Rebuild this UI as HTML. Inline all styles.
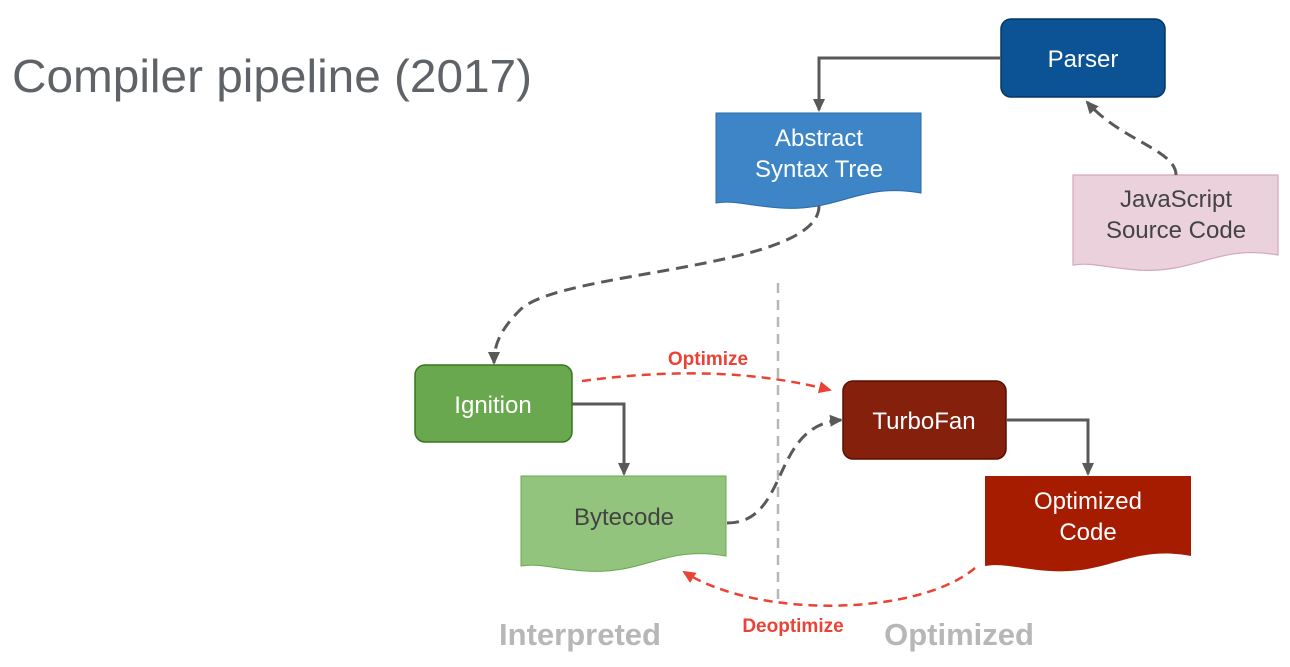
<!DOCTYPE html>
<html><head><meta charset="utf-8"><style>
html,body{margin:0;padding:0;background:#fff;}
svg{display:block;}
text{font-family:"Liberation Sans",sans-serif;}
</style></head><body>
<svg width="1290" height="667" viewBox="0 0 1290 667" xmlns="http://www.w3.org/2000/svg">
<defs>
<marker id="ag" markerWidth="14" markerHeight="14" refX="11" refY="7" orient="auto" markerUnits="userSpaceOnUse"><path d="M0,1 L13,7 L0,13 Z" fill="#595959"/></marker>
<marker id="ar" markerWidth="14" markerHeight="14" refX="11" refY="7" orient="auto" markerUnits="userSpaceOnUse"><path d="M0,1 L13,7 L0,13 Z" fill="#ea4335"/></marker>
</defs>
<text x="12" y="92" font-size="46" fill="#5f6368" textLength="520" lengthAdjust="spacingAndGlyphs">Compiler pipeline (2017)</text>

<line x1="778" y1="283" x2="778" y2="606" stroke="#b7b7b7" stroke-width="2.5" stroke-dasharray="10,7"/>

<rect x="1001" y="19" width="164" height="78" rx="10" fill="#0b5394" stroke="#073763" stroke-width="1.5"/>
<text x="1083" y="67" font-size="24" fill="#fff" text-anchor="middle">Parser</text>

<path d="M716,113 H921 V193 C860,182 840,212 780,208 C750,206 735,200 716,203 Z" fill="#3d85c6" stroke="#2a6aa8" stroke-width="1"/>
<text x="819" y="146" font-size="24" fill="#fff" text-anchor="middle">Abstract</text>
<text x="819" y="177" font-size="24" fill="#fff" text-anchor="middle">Syntax Tree</text>

<path d="M1073,175 H1278 V255 C1217,244 1197,274 1137,270 C1107,268 1092,262 1073,265 Z" fill="#ead1dc" stroke="#d5a6bd" stroke-width="1.2"/>
<text x="1176" y="207" font-size="24" fill="#434343" text-anchor="middle">JavaScript</text>
<text x="1176" y="238" font-size="24" fill="#434343" text-anchor="middle">Source Code</text>

<rect x="415" y="365" width="157" height="77" rx="10" fill="#6aa84f" stroke="#38761d" stroke-width="1.5"/>
<text x="493" y="413" font-size="24" fill="#fff" text-anchor="middle">Ignition</text>

<path d="M521,476 H726 V556 C665,545 645,575 585,571 C555,569 540,563 521,566 Z" fill="#93c47d" stroke="#6aa84f" stroke-width="1"/>
<text x="624" y="525" font-size="24" fill="#434343" text-anchor="middle">Bytecode</text>

<rect x="843" y="381" width="163" height="78" rx="10" fill="#85200c" stroke="#5b0f00" stroke-width="1.5"/>
<text x="924" y="429" font-size="24" fill="#fff" text-anchor="middle">TurboFan</text>

<path d="M985,476 H1191 V556 C1130,545 1110,575 1050,571 C1020,569 1004,563 985,566 Z" fill="#a61c00"/>
<text x="1088" y="509" font-size="24" fill="#fff" text-anchor="middle">Optimized</text>
<text x="1088" y="540" font-size="24" fill="#fff" text-anchor="middle">Code</text>

<path d="M1001,58 H819 V110" fill="none" stroke="#595959" stroke-width="3" marker-end="url(#ag)"/>
<path d="M1176,175 C1176,150 1120,140 1087,102" fill="none" stroke="#595959" stroke-width="3" stroke-dasharray="12,7" marker-end="url(#ag)"/>
<path d="M819,206 C819,270 560,270 520,310 C500,330 494,345 494,363" fill="none" stroke="#595959" stroke-width="3" stroke-dasharray="12,7" marker-end="url(#ag)"/>
<path d="M572,404 H624 V474" fill="none" stroke="#595959" stroke-width="3" marker-end="url(#ag)"/>
<path d="M727,523 C790,523 770,425 841,420" fill="none" stroke="#595959" stroke-width="3" stroke-dasharray="12,7" marker-end="url(#ag)"/>
<path d="M1006,420 H1088 V474" fill="none" stroke="#595959" stroke-width="3" marker-end="url(#ag)"/>

<path d="M582,381 C680,368 760,372 830,390" fill="none" stroke="#ea4335" stroke-width="2.5" stroke-dasharray="9,6" marker-end="url(#ar)"/>
<text x="708" y="365" font-size="19" font-weight="bold" fill="#ea4335" text-anchor="middle">Optimize</text>
<path d="M975,568 C920,615 760,620 684,572" fill="none" stroke="#ea4335" stroke-width="2.5" stroke-dasharray="9,6" marker-end="url(#ar)"/>
<text x="793" y="632" font-size="19" font-weight="bold" fill="#ea4335" text-anchor="middle">Deoptimize</text>

<text x="580" y="645" font-size="31" font-weight="bold" fill="#b7b7b7" text-anchor="middle">Interpreted</text>
<text x="959" y="645" font-size="31" font-weight="bold" fill="#b7b7b7" text-anchor="middle">Optimized</text>
</svg>
</body></html>
